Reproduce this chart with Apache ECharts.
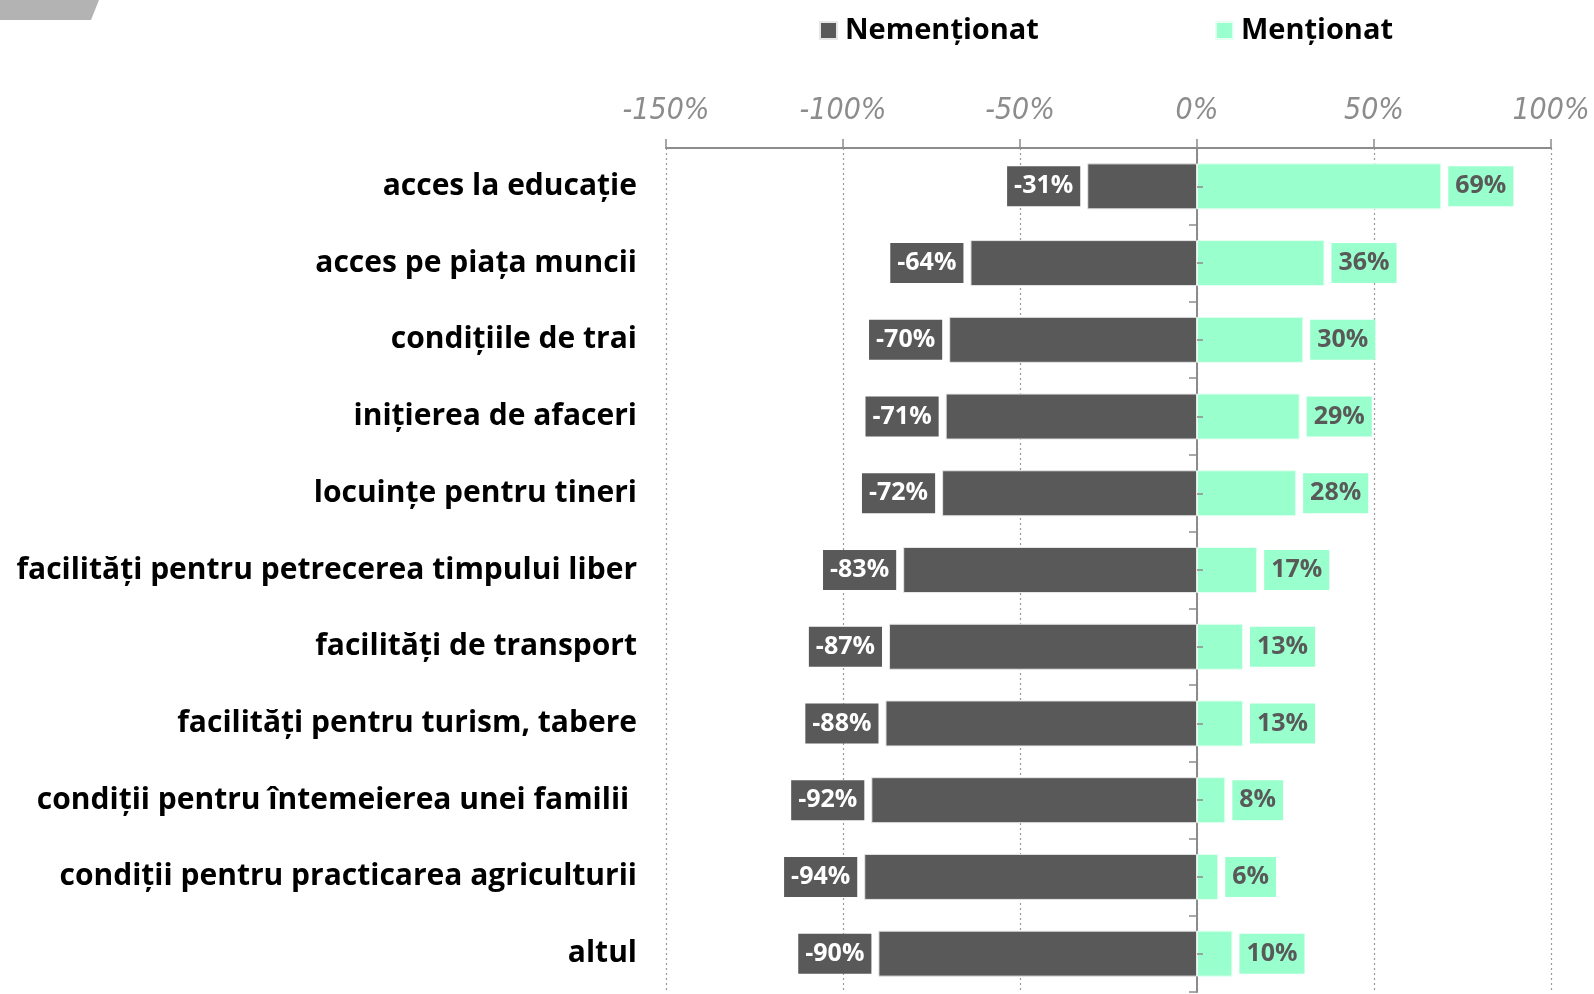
<!DOCTYPE html>
<html>
<head>
<meta charset="utf-8">
<script src="https://cdn.jsdelivr.net/npm/echarts@6/dist/echarts.min.js"></script>
<style>
  html, body { margin: 0; padding: 0; background: #fff; }
  #chart { width: 1594px; height: 994px; }
</style>
</head>
<body>
<div id="chart"></div>
<script>
// date
var categories = [
  'acces la educație',
  'acces pe piața muncii',
  'condițiile de trai',
  'inițierea de afaceri',
  'locuințe pentru tineri',
  'facilități pentru petrecerea timpului liber',
  'facilități de transport',
  'facilități pentru turism, tabere',
  'condiții pentru întemeierea unei familii ',
  'condiții pentru practicarea agriculturii',
  'altul'
];
var nementionat = [-31, -64, -70, -71, -72, -83, -87, -88, -92, -94, -90];
var mentionat = [69, 36, 30, 29, 28, 17, 13, 13, 8, 6, 10];
var tickValues = [-150, -100, -50, 0, 50, 100];

var dark = '#595959';
var mint = '#99FFCC';
var axisGray = '#8c8c8c';

var chart = echarts.init(document.getElementById('chart'));

var option = {
  animation: false,
  graphic: [{
    type: 'polygon',
    shape: { points: [[0, 0], [99, 0], [91, 20], [0, 20]] },
    style: { fill: '#b3b3b3' }
  }],
  legend: {
    left: 814,
    top: 11,
    itemGap: 176,
    itemWidth: 17,
    itemHeight: 17,
    icon: 'rect',
    textStyle: {
      fontFamily: 'Open Sans',
      fontWeight: 'bold',
      fontSize: 29,
      color: '#000',
      padding: [0, 0, 0, 3]
    },
    data: ['Nemenționat', 'Menționat']
  },
  grid: { left: 666, right: 43, top: 148, bottom: 2 },
  xAxis: {
    type: 'value',
    position: 'top',
    min: tickValues[0],
    max: tickValues[tickValues.length - 1],
    interval: 50,
    axisLine: { show: true, lineStyle: { color: axisGray, width: 2 } },
    axisTick: { show: true, length: 9, lineStyle: { color: axisGray, width: 1.5 } },
    splitLine: { show: true, lineStyle: { color: '#999', type: [2, 3], width: 1.2 } },
    axisLabel: {
      margin: 22,
      formatter: '{value}%',
      fontFamily: 'Liberation Sans Narrow, DejaVu Sans Condensed, sans-serif',
      fontStyle: 'italic',
      fontSize: 30,
      color: '#8c8c8c'
    }
  },
  yAxis: [{
    type: 'category',
    inverse: true,
    data: categories,
    axisLine: { show: true, onZero: true, lineStyle: { color: axisGray, width: 2 } },
    axisTick: { show: true, length: 8, lineStyle: { color: axisGray, width: 1.5 } },
    axisLabel: {
      margin: 29,
      fontFamily: 'Open Sans',
      fontWeight: 'bold',
      fontSize: 30,
      color: '#000'
    }
  }, {
    // repere mici in dreptul fiecarei bare, pe axa de la 0
    type: 'category',
    inverse: true,
    position: 'left',
    offset: -531,
    z: 5,
    data: categories,
    axisLine: { show: false, onZero: false },
    axisTick: { show: true, alignWithLabel: true, inside: true, length: 6, lineStyle: { color: axisGray, width: 1.5 } },
    axisLabel: { show: false }
  }],
  series: [{
    name: 'Nemenționat',
    type: 'bar',
    stack: 'total',
    barWidth: 46,
    data: nementionat,
    itemStyle: { color: dark, borderColor: '#e6e6e6', borderWidth: 1 },
    label: {
      show: true,
      position: 'left',
      distance: 7,
      formatter: '{c}%',
      backgroundColor: dark,
      color: '#fff',
      fontFamily: 'Open Sans',
      fontWeight: 'bold',
      fontSize: 25,
      lineHeight: 28,
      padding: [6, 7]
    }
  }, {
    name: 'Menționat',
    type: 'bar',
    stack: 'total',
    barWidth: 46,
    data: mentionat,
    itemStyle: { color: mint, borderColor: '#e6fff2', borderWidth: 1 },
    label: {
      show: true,
      position: 'right',
      distance: 7,
      formatter: '{c}%',
      backgroundColor: mint,
      color: dark,
      fontFamily: 'Open Sans',
      fontWeight: 'bold',
      fontSize: 25,
      lineHeight: 28,
      padding: [6, 7]
    }
  }]
};

chart.setOption(option);
</script>
</body>
</html>
